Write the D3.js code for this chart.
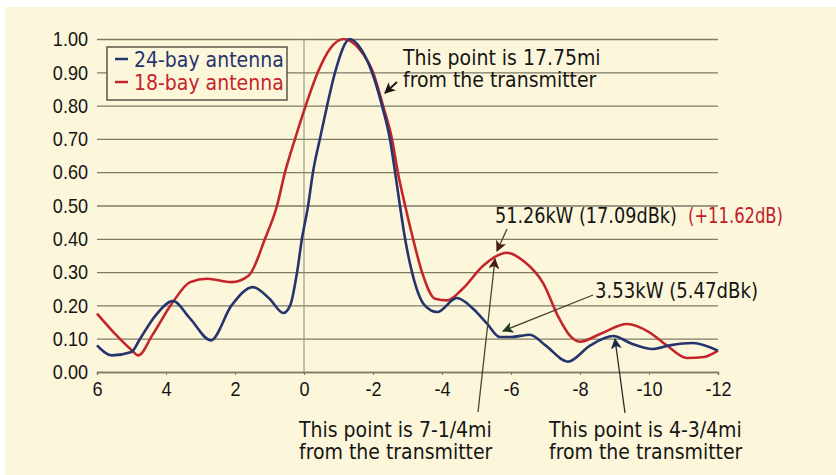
<!DOCTYPE html>
<html>
<head>
  <meta charset="utf-8">
  <title>18-bay vs 24-bay antenna pattern</title>
  <script src="https://d3js.org/d3.v7.min.js"></script>
  <style>
    html, body {
      margin: 0;
      padding: 0;
      background: #fff;
    }
    svg {
      display: block;
      font-family: "Liberation Sans Narrow", "DejaVu Sans Condensed", "Roboto", sans-serif;
    }
    .tick text {
      font-size: 21px;
      fill: #151515;
    }
    .note {
      font-size: 21px;
      fill: #151515;
    }
  </style>
</head>
<body>
  <svg width="836" height="475"></svg>

  <script>
    // values (x = degrees, y = relative field)
    const xTicks = [6, 4, 2, 0, -2, -4, -6, -8, -10, -12];
    const yTicks = [0, 0.1, 0.2, 0.3, 0.4, 0.5, 0.6, 0.7, 0.8, 0.9, 1.0];

    const bay24X = [6, 5.57, 5.0, 4.75, 4.3, 3.8, 3.3, 2.7, 2.1, 1.48, 1.0, 0.6, 0.4, 0.2, 0.06, -0.12, -0.26, -0.46, -0.67, -0.9, -1.33, -1.65, -1.97, -2.26, -2.49, -2.64, -2.78, -2.93, -3.13, -3.5, -3.86, -4.43, -4.9, -5.3, -5.68, -6.0, -6.55, -7.0, -7.65, -8.3, -8.96, -9.5, -10.1, -10.6, -11.27, -12];
    const bay24Y = [0.08, 0.05, 0.06, 0.10, 0.17, 0.213, 0.16, 0.095, 0.20, 0.255, 0.22, 0.177, 0.20, 0.30, 0.40, 0.50, 0.60, 0.70, 0.80, 0.90, 1.0, 0.97, 0.90, 0.80, 0.70, 0.60, 0.50, 0.40, 0.30, 0.20, 0.18, 0.222, 0.19, 0.146, 0.105, 0.105, 0.112, 0.08, 0.031, 0.08, 0.108, 0.085, 0.069, 0.08, 0.087, 0.064];

    const bay18X = [6, 5.5, 5.0, 4.8, 4.4, 3.8, 3.3, 2.8, 2.1, 1.6, 1.13, 0.78, 0.55, 0.26, -0.05, -0.4, -0.75, -1.15, -1.6, -2.0, -2.29, -2.55, -2.72, -2.93, -3.16, -3.42, -3.8, -4.15, -4.6, -5.2, -5.88, -6.4, -6.93, -7.4, -7.7, -8.0, -8.6, -9.36, -10.0, -10.5, -11.1, -11.6, -12];
    const bay18Y = [0.175, 0.117, 0.066, 0.05, 0.11, 0.21, 0.27, 0.28, 0.27, 0.29, 0.40, 0.50, 0.60, 0.70, 0.80, 0.90, 0.97, 1.0, 0.97, 0.90, 0.80, 0.70, 0.60, 0.50, 0.40, 0.30, 0.22, 0.215, 0.25, 0.32, 0.358, 0.33, 0.267, 0.16, 0.11, 0.091, 0.115, 0.144, 0.12, 0.081, 0.042, 0.045, 0.064];

    const seriesNames = ["24-bay antenna", "18-bay antenna"];
    const seriesColors = ["#26346e", "#c4252b"];

    const svg = d3.select("svg");

    // cream paper
    svg.append("rect")
      .attr("x", 5).attr("y", 7)
      .attr("width", 831).attr("height", 468)
      .attr("fill", "#fcf7da");

    const x = d3.scaleLinear().domain([6, -12]).range([97, 718]);
    const y = d3.scaleLinear().domain([0, 1]).range([372, 39]);

    // grid + y labels
    const yAxis = svg.append("g")
      .attr("transform", "translate(97,0)")
      .call(d3.axisLeft(y)
        .tickValues(yTicks)
        .tickSize(-(718 - 97))
        .tickPadding(9)
        .tickFormat(d3.format(".2f")));
    yAxis.select(".domain").remove();
    yAxis.selectAll(".tick line")
      .attr("stroke", "#7d7a68")
      .attr("stroke-width", 1.3);

    // vertical line at 0
    svg.append("line")
      .attr("x1", x(0)).attr("x2", x(0))
      .attr("y1", y(1)).attr("y2", y(0) + 2)
      .attr("stroke", "#8a8878")
      .attr("stroke-width", 1);

    // x axis
    const xAxis = svg.append("g")
      .attr("transform", "translate(0," + y(0) + ")")
      .call(d3.axisBottom(x)
        .tickValues(xTicks)
        .tickSize(3)
        .tickPadding(6)
        .tickFormat(d => String(d)));
    xAxis.select(".domain")
      .attr("stroke", "#7d7a68")
      .attr("stroke-width", 1.5);
    xAxis.selectAll(".tick line").attr("stroke", "#7d7a68");

    const line = d3.line()
      .x(d => x(d[0]))
      .y(d => y(d[1]))
      .curve(d3.curveMonotoneX);

    const seriesData = [
      d3.zip(bay24X, bay24Y),
      d3.zip(bay18X, bay18Y)
    ];

    // draw 18-bay first, 24-bay on top
    [1, 0].forEach(i => {
      svg.append("path")
        .datum(seriesData[i])
        .attr("d", line)
        .attr("fill", "none")
        .attr("stroke", seriesColors[i])
        .attr("stroke-width", 2.6)
        .attr("stroke-linejoin", "round");
    });

    // legend
    const legend = svg.append("g");
    legend.append("rect")
      .attr("x", 107).attr("y", 47)
      .attr("width", 180).attr("height", 53)
      .attr("fill", "#fcf7da")
      .attr("stroke", "#5a5548")
      .attr("stroke-width", 1.5);
    seriesNames.forEach((name, i) => {
      const yy = 59 + i * 23;
      legend.append("line")
        .attr("x1", 115).attr("x2", 128)
        .attr("y1", yy).attr("y2", yy)
        .attr("stroke", seriesColors[i])
        .attr("stroke-width", 2.5);
      legend.append("text")
        .attr("x", 134).attr("y", yy + 8)
        .attr("font-size", 21)
        .attr("fill", seriesColors[i])
        .text(name);
    });

    // arrows
    const defs = svg.append("defs");
    function marker(id, color) {
      defs.append("marker")
        .attr("id", id)
        .attr("viewBox", "0 0 10 10")
        .attr("refX", 9).attr("refY", 5)
        .attr("markerWidth", 11).attr("markerHeight", 11)
        .attr("markerUnits", "userSpaceOnUse")
        .attr("orient", "auto")
        .append("path")
        .attr("d", "M0,0 L10,5 L0,10 L2.5,5 Z")
        .attr("fill", color);
    }
    marker("headBlack", "#151515");
    marker("headBrown", "#4a1a12");
    marker("headGreen", "#1f3a1e");
    marker("headNavy", "#1e2a44");

    function arrow(x1, y1, x2, y2, color, head, w) {
      svg.append("line")
        .attr("x1", x1).attr("y1", y1)
        .attr("x2", x2).attr("y2", y2)
        .attr("stroke", color)
        .attr("stroke-width", w || 1.3)
        .attr("marker-end", "url(#" + head + ")");
    }
    arrow(397, 82, 385, 93, "#151515", "headBlack", 1.8);
    arrow(507, 229, 497, 251, "#3e4a2a", "headBrown");
    arrow(593, 295, 503, 331, "#4a3a2a", "headGreen");
    arrow(478, 412, 495, 259, "#3e4a2a", "headBrown");
    arrow(625, 413, 615, 339, "#2a2a2a", "headNavy");

    // notes
    function note(xx, yy, lines) {
      const t = svg.append("text").attr("class", "note").attr("x", xx).attr("y", yy);
      lines.forEach((s, i) => {
        t.append("tspan").attr("x", xx).attr("dy", i ? 22 : 0).text(s);
      });
    }
    note(403, 65, ["This point is 17.75mi", "from the transmitter"]);
    note(299, 437, ["This point is 7-1/4mi", "from the transmitter"]);
    note(549, 437, ["This point is 4-3/4mi", "from the transmitter"]);

    svg.append("text").attr("class", "note").attr("x", 495).attr("y", 223)
      .attr("textLength", 182).attr("lengthAdjust", "spacingAndGlyphs")
      .text("51.26kW (17.09dBk)");
    svg.append("text").attr("class", "note").attr("x", 688).attr("y", 223)
      .style("fill", "#c0202a")
      .attr("textLength", 95).attr("lengthAdjust", "spacingAndGlyphs")
      .text("(+11.62dB)");

    svg.append("text").attr("class", "note").attr("x", 595).attr("y", 298)
      .attr("textLength", 163).attr("lengthAdjust", "spacingAndGlyphs")
      .text("3.53kW (5.47dBk)");

    // the original tick face is narrower: squeeze those glyphs a little
    svg.selectAll(".tick text").each(function () {
      const n = this.getComputedTextLength();
      d3.select(this).attr("textLength", n * 0.86).attr("lengthAdjust", "spacingAndGlyphs");
    });
  </script>
</body>
</html>
